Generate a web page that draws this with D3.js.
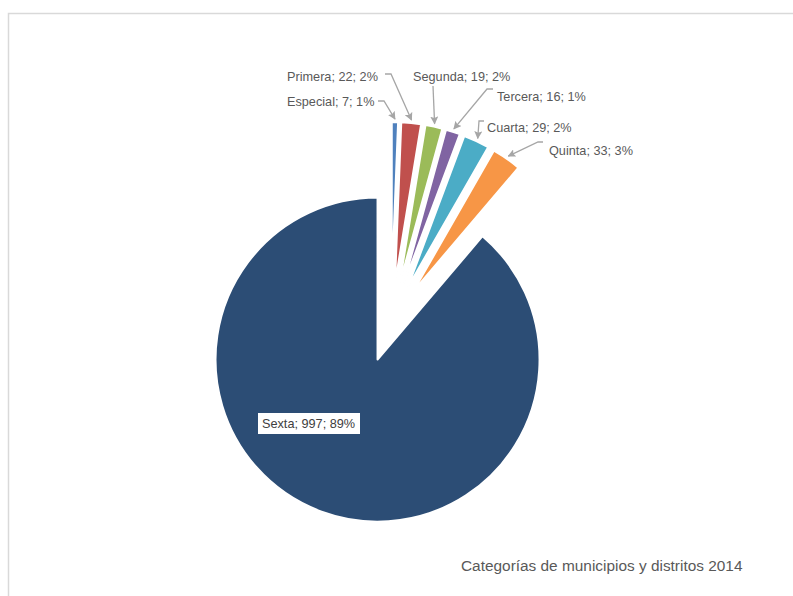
<!DOCTYPE html>
<html>
<head>
<meta charset="utf-8">
<script src="https://cdn.jsdelivr.net/npm/d3@7"></script>
<style>
  html, body { margin: 0; padding: 0; background: #fff; }
  svg { display: block; }
  text { font-family: "Liberation Sans", Arial, sans-serif; }
</style>
</head>
<body>
<svg id="chart" width="793" height="596"></svg>
<script>
// ---- data ----
const categories = ["Especial", "Primera", "Segunda", "Tercera", "Cuarta", "Quinta", "Sexta"];
const values = [7, 22, 19, 16, 29, 33, 997];
const percentLabels = ["1%", "2%", "2%", "1%", "2%", "3%", "89%"];
const title = "Categorías de municipios y distritos 2014";

// ---- style / layout ----
const colors = ["#4f81bd", "#c0504d", "#9bbb59", "#8064a2", "#4bacc6", "#f79646", "#2c4d75"];
const W = 793, H = 596;
const cx = 391, cy = 323, R = 162, explode = 39;
// label layout: left x, baseline y, leader path points (before arrow tip)
const labelLayout = [
  { x: 287, y: 105.5, leader: [[378, 101], [384, 101]] },
  { x: 287, y: 80.5,  leader: [[385, 74], [391, 74]] },
  { x: 413, y: 80.5,  leader: [[433, 86]] },
  { x: 497, y: 100.5, leader: [[493, 89], [487, 89]] },
  { x: 487, y: 132,   leader: [[484, 121], [479, 121]] },
  { x: 549, y: 154.5, leader: [[543, 142], [538, 142]] },
  { x: 262, y: 428,   box: [258, 413, 102, 21] }
];

const svg = d3.select("#chart");

// chart border
svg.append("path")
  .attr("d", `M8.5,${H + 2} L8.5,13.5 L${W + 2},13.5`)
  .attr("fill", "none")
  .attr("stroke", "#d9d9d9")
  .attr("stroke-width", 1.5);

const data = categories.map((c, i) => ({ cat: c, value: values[i], pct: percentLabels[i], i }));

const pie = d3.pie().sort(null).value(d => d.value).startAngle(0).endAngle(2 * Math.PI);
const arcs = pie(data);
const arc = d3.arc().innerRadius(0).outerRadius(R);

function offset(a) {
  const m = (a.startAngle + a.endAngle) / 2;
  return [explode * Math.sin(m), -explode * Math.cos(m)];
}

const g = svg.append("g").attr("transform", `translate(${cx},${cy})`);
g.selectAll("path.slice")
  .data(arcs)
  .join("path")
  .attr("class", "slice")
  .attr("d", arc)
  .attr("transform", d => { const o = offset(d); return `translate(${o[0]},${o[1]})`; })
  .attr("fill", d => colors[d.data.i])
  .attr("stroke", "#fff")
  .attr("stroke-width", 2)
  .attr("stroke-linejoin", "round");

// arrow marker
const defs = svg.append("defs");
defs.append("marker")
  .attr("id", "arrow")
  .attr("viewBox", "0 0 10 10")
  .attr("refX", 9).attr("refY", 5)
  .attr("markerWidth", 8).attr("markerHeight", 8)
  .attr("markerUnits", "userSpaceOnUse")
  .attr("orient", "auto")
  .append("path")
  .attr("d", "M0,0 L10,5 L0,10 L2,5 Z")
  .attr("fill", "#a6a6a6");

// labels and leaders
arcs.forEach((a, k) => {
  const L = labelLayout[k];
  const text = `${a.data.cat}; ${a.data.value}; ${a.data.pct}`;
  if (L.box) {
    svg.append("rect")
      .attr("x", L.box[0]).attr("y", L.box[1])
      .attr("width", L.box[2]).attr("height", L.box[3])
      .attr("fill", "#fff");
  }
  if (L.leader) {
    const o = offset(a);
    const m = (a.startAngle + a.endAngle) / 2;
    const tipR = R + 3;
    const tip = [cx + o[0] + tipR * Math.sin(m), cy + o[1] - tipR * Math.cos(m)];
    const pts = L.leader.concat([tip]);
    svg.append("path")
      .attr("d", d3.line()(pts))
      .attr("fill", "none")
      .attr("stroke", "#a6a6a6")
      .attr("stroke-width", 1.3)
      .attr("marker-end", "url(#arrow)");
  }
  svg.append("text")
    .attr("x", L.x).attr("y", L.y)
    .attr("font-size", 12.7)
    .attr("fill", L.box ? "#404040" : "#595959")
    .text(text);
});

// title
svg.append("text")
  .attr("x", 461).attr("y", 571)
  .attr("font-size", 15.4)
  .attr("fill", "#595959")
  .text(title);
</script>
</body>
</html>
